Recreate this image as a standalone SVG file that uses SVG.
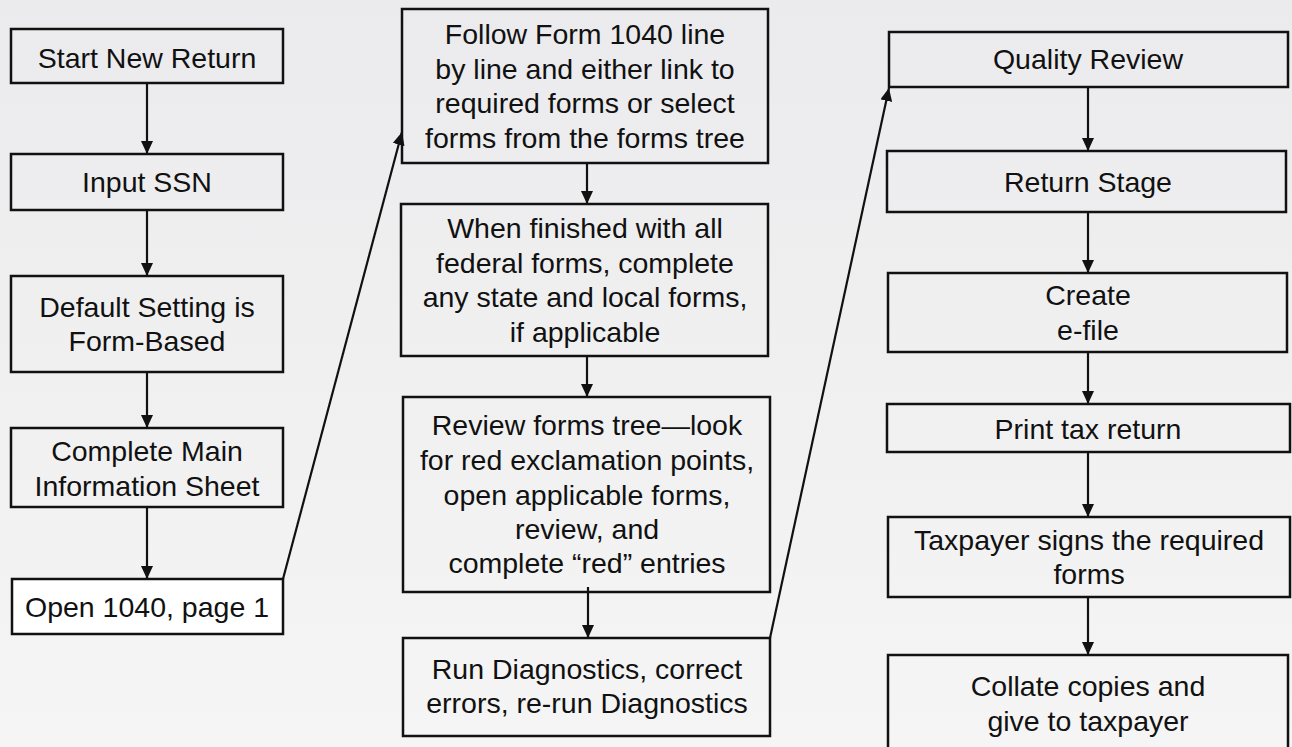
<svg xmlns="http://www.w3.org/2000/svg" width="1292" height="747" viewBox="0 0 1292 747">
<defs>
<linearGradient id="bg" x1="0" y1="0" x2="0" y2="1">
<stop offset="0" stop-color="#ebebed"/>
<stop offset="1" stop-color="#f5f5f5"/>
</linearGradient>
<marker id="ah" markerUnits="userSpaceOnUse" markerWidth="13" markerHeight="12" viewBox="0 0 13 12" refX="13" refY="6" orient="auto">
<path d="M0,0 L13,6 L0,12 z" fill="#111"/>
</marker>
<style>
.box{fill:none;stroke:#111;stroke-width:2.5}
.wbox{fill:#fff;stroke:#111;stroke-width:2.5}
text{font-family:"Liberation Sans",Arial,Helvetica,sans-serif;font-size:28.5px;fill:#111;text-anchor:middle}
.c{stroke:#111;stroke-width:2.2;fill:none;marker-end:url(#ah)}
</style>
</defs>
<rect x="0" y="0" width="1292" height="747" fill="url(#bg)"/>

<g id="connectors">
<line class="c" x1="147" y1="83" x2="147" y2="154"/>
<line class="c" x1="147" y1="210" x2="147" y2="276"/>
<line class="c" x1="147" y1="372" x2="147" y2="428"/>
<line class="c" x1="147" y1="507" x2="147" y2="579"/>
<line class="c" x1="283" y1="579" x2="402" y2="132"/>
<line class="c" x1="587" y1="163" x2="587" y2="204"/>
<line class="c" x1="587" y1="356" x2="587" y2="397"/>
<line class="c" x1="588" y1="587" x2="588" y2="638"/>
<line class="c" x1="770" y1="638" x2="889" y2="88"/>
<line class="c" x1="1088" y1="87" x2="1088" y2="151"/>
<line class="c" x1="1088" y1="212" x2="1088" y2="273"/>
<line class="c" x1="1088" y1="352" x2="1088" y2="404"/>
<line class="c" x1="1088" y1="452" x2="1088" y2="517"/>
<line class="c" x1="1088" y1="597" x2="1088" y2="655"/>
</g>

<g id="n1"><rect class="box" x="11" y="29" width="272" height="54"/><text x="147" y="68">Start New Return</text></g>
<g id="n2"><rect class="box" x="11" y="154" width="272" height="56"/><text x="147" y="192">Input SSN</text></g>
<g id="n3"><rect class="box" x="11" y="276" width="272" height="96"/><text x="147" y="317">Default Setting is</text><text x="147" y="351">Form-Based</text></g>
<g id="n4"><rect class="box" x="11" y="428" width="272" height="79"/><text x="147" y="461">Complete Main</text><text x="147" y="496">Information Sheet</text></g>
<g id="n5"><rect class="wbox" x="12" y="579" width="271" height="55"/><text x="147" y="617">Open 1040, page 1</text></g>

<g id="n6"><rect class="box" x="402" y="9" width="366" height="154"/>
<text x="585" y="44">Follow Form 1040 line</text>
<text x="585" y="79">by line and either link to</text>
<text x="585" y="113">required forms or select</text>
<text x="585" y="148">forms from the forms tree</text></g>
<g id="n7"><rect class="box" x="401" y="204" width="367" height="152"/>
<text x="585" y="238">When finished with all</text>
<text x="585" y="273">federal forms, complete</text>
<text x="585" y="307">any state and local forms,</text>
<text x="585" y="342">if applicable</text></g>
<g id="n8"><rect class="box" x="403" y="397" width="367" height="195"/>
<text x="587" y="435">Review forms tree—look</text>
<text x="587" y="470">for red exclamation points,</text>
<text x="587" y="505">open applicable forms,</text>
<text x="587" y="539">review, and</text>
<text x="587" y="573">complete “red” entries</text></g>
<g id="n9"><rect class="box" x="403" y="638" width="367" height="98"/>
<text x="587" y="679">Run Diagnostics, correct</text>
<text x="587" y="713">errors, re-run Diagnostics</text></g>

<g id="n10"><rect class="box" x="889" y="32" width="399" height="55"/><text x="1088" y="69">Quality Review</text></g>
<g id="n11"><rect class="box" x="887" y="151" width="399" height="61"/><text x="1088" y="192">Return Stage</text></g>
<g id="n12"><rect class="box" x="888" y="273" width="399" height="79"/><text x="1088" y="305">Create</text><text x="1088" y="340">e-file</text></g>
<g id="n13"><rect class="box" x="887" y="404" width="403" height="48"/><text x="1088" y="439">Print tax return</text></g>
<g id="n14"><rect class="box" x="888" y="517" width="402" height="80"/><text x="1089" y="550">Taxpayer signs the required</text><text x="1089" y="584">forms</text></g>
<g id="n15"><rect class="box" x="888" y="655" width="400" height="110"/><text x="1088" y="696">Collate copies and</text><text x="1088" y="731">give to taxpayer</text></g>
</svg>
